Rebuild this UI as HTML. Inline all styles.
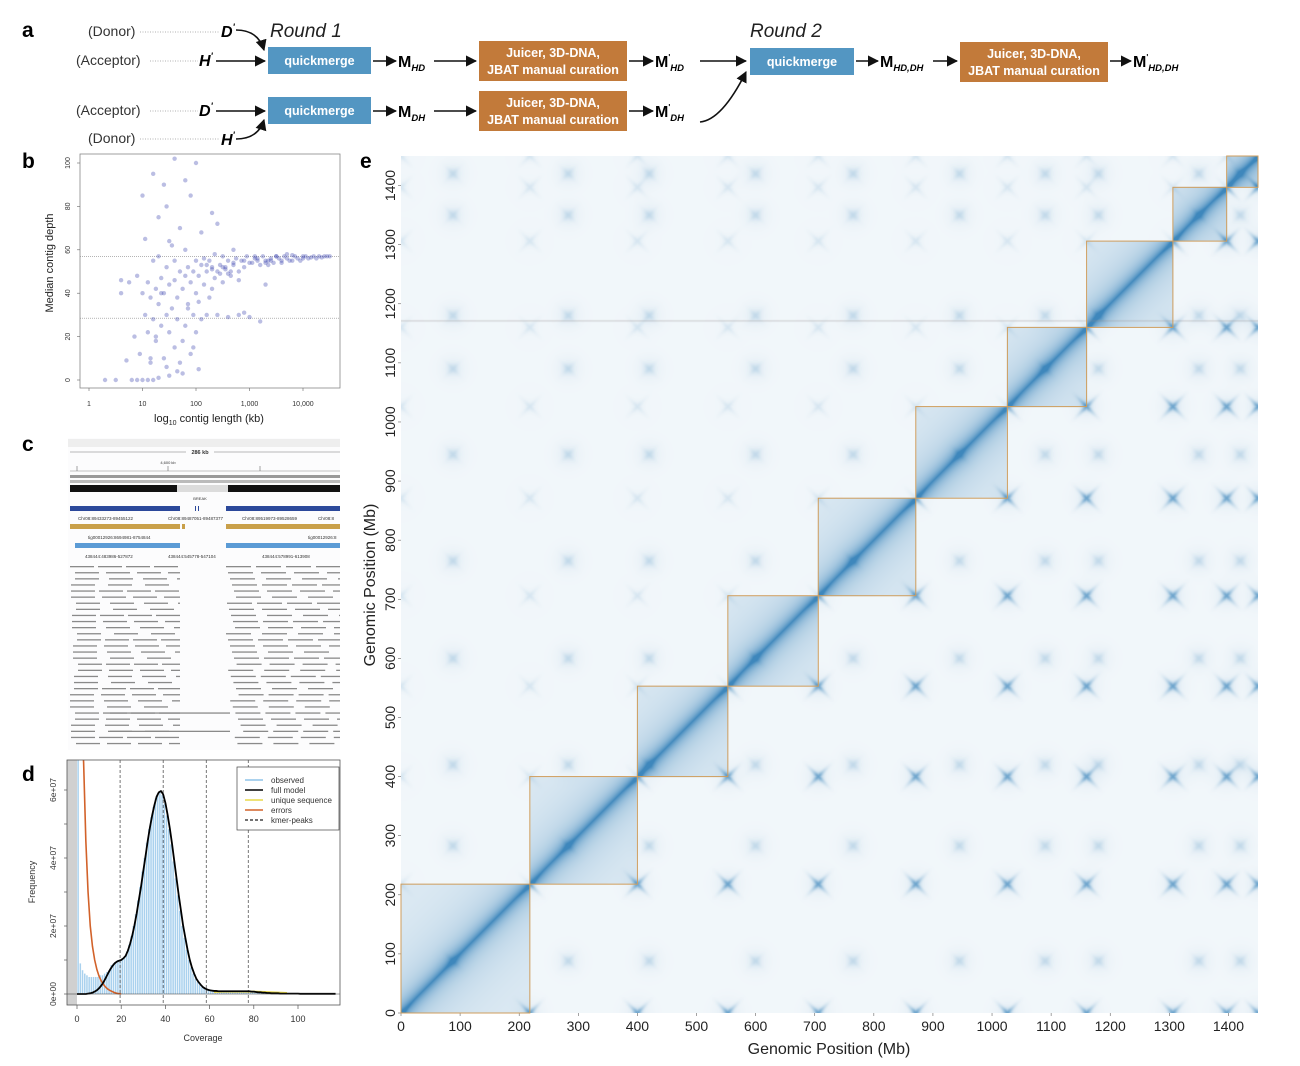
<!DOCTYPE html>
<html><head><meta charset="utf-8">
<style>
html,body{margin:0;padding:0;background:#fff;}
body{width:1300px;height:1066px;position:relative;overflow:hidden;font-family:"Liberation Sans",sans-serif;}
svg{position:absolute;left:0;top:0;}
#hm{position:absolute;left:401px;top:156px;width:857px;height:857px;}
</style></head>
<body>
<svg id="main" width="1300" height="1066" viewBox="0 0 1300 1066">
<defs>
<marker id="ah" viewBox="0 0 10 10" refX="9" refY="5" markerWidth="7" markerHeight="7" orient="auto-start-reverse"><path d="M0,0 L10,5 L0,10 z" fill="#111"/></marker>
</defs>
<g id="panelA" font-family="Liberation Sans, sans-serif">
<text x="22" y="37" font-size="21" font-weight="bold">a</text>
<text x="88" y="36" font-size="14" fill="#333">(Donor)</text>
<line x1="140" y1="32" x2="220" y2="32" stroke="#999" stroke-dasharray="1,1.5" stroke-width="0.8"/>
<text x="221" y="37" font-size="16" font-weight="bold" font-style="italic">D<tspan font-size="9" dy="-7">'</tspan></text>
<path d="M236,30 Q258,30 264,50" fill="none" stroke="#111" stroke-width="1.6" marker-end="url(#ah)"/>
<text x="76" y="65" font-size="14" fill="#333">(Acceptor)</text>
<line x1="150" y1="61" x2="198" y2="61" stroke="#999" stroke-dasharray="1,1.5" stroke-width="0.8"/>
<text x="199" y="66" font-size="16" font-weight="bold" font-style="italic">H<tspan font-size="9" dy="-7">'</tspan></text>
<line x1="216" y1="61" x2="265" y2="61" stroke="#111" stroke-width="1.6" marker-end="url(#ah)"/>
<text x="270" y="37" font-size="19" font-style="italic" fill="#222">Round 1</text>
<rect x="268" y="47" width="103" height="27" fill="#5396c2"/>
<text x="319.5" y="65" font-size="12.5" font-weight="bold" fill="#fff" text-anchor="middle">quickmerge</text>
<line x1="373" y1="61" x2="396" y2="61" stroke="#111" stroke-width="1.6" marker-end="url(#ah)"/>
<text x="398" y="67" font-size="16" font-weight="bold">M<tspan font-size="9.5" font-style="italic" dy="4">HD</tspan></text>
<line x1="434" y1="61" x2="476" y2="61" stroke="#111" stroke-width="1.6" marker-end="url(#ah)"/>
<rect x="479" y="41" width="148" height="40" fill="#c27a3a"/>
<text x="553" y="57" font-size="12.5" font-weight="bold" fill="#fff" text-anchor="middle">Juicer, 3D-DNA,</text>
<text x="553" y="74" font-size="12.5" font-weight="bold" fill="#fff" text-anchor="middle">JBAT manual curation</text>
<line x1="629" y1="61" x2="653" y2="61" stroke="#111" stroke-width="1.6" marker-end="url(#ah)"/>
<text x="655" y="67" font-size="16" font-weight="bold">M<tspan font-size="8" dy="-7">'</tspan><tspan font-size="9.5" font-style="italic" dy="11">HD</tspan></text>
<line x1="700" y1="61" x2="746" y2="61" stroke="#111" stroke-width="1.6" marker-end="url(#ah)"/>
<text x="76" y="115" font-size="14" fill="#333">(Acceptor)</text>
<line x1="150" y1="111" x2="198" y2="111" stroke="#999" stroke-dasharray="1,1.5" stroke-width="0.8"/>
<text x="199" y="116" font-size="16" font-weight="bold" font-style="italic">D<tspan font-size="9" dy="-7">'</tspan></text>
<line x1="216" y1="111" x2="265" y2="111" stroke="#111" stroke-width="1.6" marker-end="url(#ah)"/>
<text x="88" y="143" font-size="14" fill="#333">(Donor)</text>
<line x1="140" y1="139" x2="220" y2="139" stroke="#999" stroke-dasharray="1,1.5" stroke-width="0.8"/>
<text x="221" y="145" font-size="16" font-weight="bold" font-style="italic">H<tspan font-size="9" dy="-7">'</tspan></text>
<path d="M236,139 Q258,139 264,120" fill="none" stroke="#111" stroke-width="1.6" marker-end="url(#ah)"/>
<rect x="268" y="97" width="103" height="27" fill="#5396c2"/>
<text x="319.5" y="115" font-size="12.5" font-weight="bold" fill="#fff" text-anchor="middle">quickmerge</text>
<line x1="373" y1="111" x2="396" y2="111" stroke="#111" stroke-width="1.6" marker-end="url(#ah)"/>
<text x="398" y="117" font-size="16" font-weight="bold">M<tspan font-size="9.5" font-style="italic" dy="4">DH</tspan></text>
<line x1="434" y1="111" x2="476" y2="111" stroke="#111" stroke-width="1.6" marker-end="url(#ah)"/>
<rect x="479" y="91" width="148" height="40" fill="#c27a3a"/>
<text x="553" y="107" font-size="12.5" font-weight="bold" fill="#fff" text-anchor="middle">Juicer, 3D-DNA,</text>
<text x="553" y="124" font-size="12.5" font-weight="bold" fill="#fff" text-anchor="middle">JBAT manual curation</text>
<line x1="629" y1="111" x2="653" y2="111" stroke="#111" stroke-width="1.6" marker-end="url(#ah)"/>
<text x="655" y="117" font-size="16" font-weight="bold">M<tspan font-size="8" dy="-7">'</tspan><tspan font-size="9.5" font-style="italic" dy="11">DH</tspan></text>
<path d="M700,122 Q722,120 746,72" fill="none" stroke="#111" stroke-width="1.6" marker-end="url(#ah)"/>
<text x="750" y="37" font-size="19" font-style="italic" fill="#222">Round 2</text>
<rect x="750" y="48" width="104" height="27" fill="#5396c2"/>
<text x="802" y="66" font-size="12.5" font-weight="bold" fill="#fff" text-anchor="middle">quickmerge</text>
<line x1="856" y1="61" x2="878" y2="61" stroke="#111" stroke-width="1.6" marker-end="url(#ah)"/>
<text x="880" y="67" font-size="16" font-weight="bold">M<tspan font-size="9.5" font-style="italic" dy="4">HD,DH</tspan></text>
<line x1="933" y1="61" x2="957" y2="61" stroke="#111" stroke-width="1.6" marker-end="url(#ah)"/>
<rect x="960" y="42" width="148" height="40" fill="#c27a3a"/>
<text x="1034" y="58" font-size="12.5" font-weight="bold" fill="#fff" text-anchor="middle">Juicer, 3D-DNA,</text>
<text x="1034" y="75" font-size="12.5" font-weight="bold" fill="#fff" text-anchor="middle">JBAT manual curation</text>
<line x1="1110" y1="61" x2="1131" y2="61" stroke="#111" stroke-width="1.6" marker-end="url(#ah)"/>
<text x="1133" y="67" font-size="16" font-weight="bold">M<tspan font-size="8" dy="-7">'</tspan><tspan font-size="9.5" font-style="italic" dy="11">HD,DH</tspan></text>
</g>
<text x="22" y="168" font-size="21" font-weight="bold">b</text>
<text x="22" y="451" font-size="21" font-weight="bold">c</text>
<text x="22" y="781" font-size="21" font-weight="bold">d</text>
<text x="360" y="168" font-size="21" font-weight="bold">e</text>
<g id="panelB"></g>
<g id="panelC"></g>
<g id="panelD"></g>
<g id="panelE"></g>
</svg>
<canvas id="hm" width="857" height="857"></canvas>
<svg id="overlay" width="1300" height="1066" style="pointer-events:none"><g id="boxes"></g></svg>
<script>
// ===== Panel b data =====
const contigLogLen = [4.5,4.45,4.4,4.35,4.3,4.25,4.2,4.15,4.1,4.05,4.0,3.95,3.9,3.85,3.8,3.75,3.7,3.65,3.6,3.55,3.5,3.45,3.4,3.35,3.3,3.25,3.2,3.15,3.1,3.05,3.0,2.95,2.9,2.85,2.8,2.75,2.7,2.65,2.6,2.55,2.5,2.5,2.45,2.4,2.35,2.35,2.3,2.3,2.25,2.25,2.2,2.2,2.15,2.15,2.1,2.1,2.05,2.05,2.0,2.0,2.0,1.95,1.95,1.9,1.9,1.85,1.85,1.8,1.8,1.8,1.75,1.75,1.7,1.7,1.7,1.65,1.65,1.6,1.6,1.6,1.55,1.55,1.5,1.5,1.5,1.45,1.45,1.45,1.4,1.4,1.4,1.35,1.35,1.3,1.3,1.3,1.25,1.25,1.2,1.2,1.2,1.2,1.15,1.15,1.1,1.1,1.1,1.05,1.05,1.0,1.0,1.0,0.95,0.9,0.9,0.85,0.8,0.75,0.7,0.6,0.6,0.5,0.3,2.4,2.6,2.8,2.9,3.0,3.2,2.0,1.6,1.8,2.3,2.4,2.1,1.9,1.5,1.3,3.3,2.7,3.6,3.4,3.1,2.9,2.7,2.5,3.8,4.0,3.5,3.3,2.6,2.8,2.3,2.2,2.45,2.55,2.65,3.15,3.35,3.7,1.85,1.95,2.05,1.75,1.65,1.45,1.35,1.25,1.15];
const contigDepth = [57,57,57,56.5,57,56,57,56.5,56,57,57,55,56,57,57.5,55,56,57,55,56,57,54,56,53,55,57,53,55,56,54,54,57,52,55,50,56,53,48,55,51,57,45,53,50,58,47,52,42,55,38,50,30,56,44,53,28,48,36,55,40,22,50,30,45,12,52,35,48,25,60,42,18,50,8,70,38,28,46,55,15,33,62,44,22,2,52,30,80,40,10,90,47,25,35,1,75,42,18,55,28,0,95,38,8,45,22,0,65,30,40,0,85,12,48,0,20,0,45,9,40,46,0,0,30,29,30,31,29,27,100,102,92,77,72,68,85,64,57,44,60,54,55,57,55,54,52,55,56,57,54,49,46,51,53,49,52,50,56,55,58,33,15,5,3,4,6,40,20,10,2,48,36,14];
// ===== Panel d data (units of 1e7) =====
const coverageObserved = [0,9,0.9,0.7,0.6,0.55,0.5,0.5,0.5,0.5,0.5,0.55,0.55,0.6,0.65,0.7,0.85,0.9,0.95,1.0,1.0,1.05,1.1,1.25,1.45,1.7,2.0,2.35,2.75,3.15,3.6,4.0,4.45,4.85,5.2,5.5,5.75,5.9,5.95,5.85,5.6,5.25,4.85,4.4,3.9,3.4,2.9,2.45,2.0,1.65,1.3,1.0,0.78,0.6,0.45,0.35,0.27,0.2,0.16,0.13,0.11,0.1,0.09,0.09,0.08,0.08,0.08,0.08,0.08,0.08,0.08,0.08,0.08,0.08,0.08,0.08,0.08,0.08,0.08,0.07,0.07,0.06,0.05,0.05,0.04,0.04,0.03,0.03,0.02,0.02,0.02];
const coverageModel = [0,0,0,0,0,0.01,0.02,0.04,0.07,0.11,0.17,0.25,0.35,0.47,0.6,0.72,0.82,0.9,0.95,0.98,1.0,1.05,1.12,1.27,1.47,1.72,2.02,2.37,2.77,3.17,3.62,4.05,4.5,4.9,5.25,5.55,5.8,5.93,5.97,5.87,5.62,5.27,4.87,4.42,3.92,3.42,2.92,2.47,2.02,1.66,1.31,1.01,0.78,0.6,0.45,0.35,0.27,0.2,0.16,0.13,0.11,0.1,0.09,0.09,0.08,0.08,0.08,0.08,0.08,0.08,0.08,0.08,0.08,0.08,0.08,0.08,0.08,0.08,0.08,0.07,0.07,0.06,0.05,0.05,0.04,0.04,0.03,0.03,0.02,0.02,0.02,0.02,0.01,0.01,0.01,0.01,0.01,0.01,0.01,0.01,0.01,0.005,0.005,0.005,0.005,0.005,0.005,0.005,0.005,0.005,0.005,0.005,0.005,0.005,0.005,0.005,0.005,0.005];
const coverageErrors = [12,10,8,6.8,4.5,3.0,2.0,1.4,1.0,0.72,0.52,0.38,0.28,0.2,0.14,0.1,0.07,0.04,0.02,0.01,0];
const coverageUnique = [[62,0.06],[66,0.07],[70,0.07],[75,0.075],[80,0.07],[85,0.06],[90,0.045],[95,0.03]];
const kmerPeaks = [19.5,39,58.5,77.5];
const dXTicks = [0,20,40,60,80,100];
const dYTicks = [0,2,4,6];
const dYTickLabels = ["0e+00","2e+07","4e+07","6e+07"];
// ===== Panel e data (Mb) =====
const chromBounds = [0,218,400,553,706,871,1026,1160,1306,1397,1450];
const centromeres = [88,283,420,600,765,945,1090,1180,1350,1420];
const heatTicks = [0,100,200,300,400,500,600,700,800,900,1000,1100,1200,1300,1400];
const mbMax = 1450;

const NS='http://www.w3.org/2000/svg';
function mk(parent,tag,attrs,text){const e=document.createElementNS(NS,tag);for(const k in attrs)e.setAttribute(k,attrs[k]);if(text!==undefined)e.textContent=text;parent.appendChild(e);return e;}

(function(){
 const g=document.getElementById('panelB');
 const X0=80,X1=340,Y0=154,Y1=388;
 const xs=v=>89+v*53.5, ys=v=>380-v*2.17;
 const fr=mk(g,'rect',{x:X0,y:Y0,width:X1-X0,height:Y1-Y0,fill:'none',stroke:'#888','stroke-width':0.8});
 
 [57,28.5].forEach(v=>{const l=mk(g,'line',{x1:X0,x2:X1,y1:ys(v),y2:ys(v),stroke:'#888','stroke-width':0.6,'stroke-dasharray':'1,1'});});
 const n=Math.min(contigLogLen.length,contigDepth.length);
 for(let i=0;i<n;i++){
  const c=mk(g,'circle',{cx:xs(contigLogLen[i]),cy:ys(contigDepth[i]),r:2.2,fill:'rgba(60,70,175,0.35)'});
  
 }
 ['1','10','100','1,000','10,000'].forEach((t,i)=>{
  mk(g,'line',{x1:xs(i),x2:xs(i),y1:Y1,y2:Y1+3,stroke:'#666','stroke-width':0.6});
  const tx=mk(g,'text',{x:xs(i),y:406,'font-size':7,'text-anchor':'middle',fill:'#333'},t);
  
 });
 [0,20,40,60,80,100].forEach(v=>{
  mk(g,'line',{x1:X0-3,x2:X0,y1:ys(v),y2:ys(v),stroke:'#666','stroke-width':0.6});
  const tx=mk(g,'text',{x:0,y:0,'font-size':7,'text-anchor':'middle',fill:'#333',transform:`translate(70,${ys(v)}) rotate(-90)`},String(v));
  
 });
 const xl=mk(g,'text',{x:209,y:422,'font-size':11,'text-anchor':'middle',fill:'#222'});
 xl.innerHTML='log<tspan font-size="7" dy="3">10</tspan><tspan dy="-3"> contig length (kb)</tspan>';
 
 const yl=mk(g,'text',{x:0,y:0,'font-size':11,'text-anchor':'middle',fill:'#222',transform:'translate(53,263) rotate(-90)'},'Median contig depth');
 
})();

(function(){
 const g=document.getElementById('panelC');
 const r=(x,y,w,h,f)=>mk(g,'rect',{x,y,width:w,height:h,fill:f});
 const t=(x,y,s,sz,a)=>mk(g,'text',{x,y,'font-size':sz||4.5,fill:'#333','text-anchor':a||'start'},s);
 r(68,438,272,312,'#fcfcfd');
 r(68,439,272,8,'#eeeeee');
 mk(g,'line',{x1:70,x2:186,y1:452,y2:452,stroke:'#777','stroke-width':0.6});
 mk(g,'line',{x1:214,x2:340,y1:452,y2:452,stroke:'#777','stroke-width':0.6});
 t(200,454,'286 kb',5.5,'middle').setAttribute('font-weight','bold');
 t(168,464,'4,600 kb',4,'middle');
 mk(g,'line',{x1:70,x2:340,y1:471,y2:471,stroke:'#888','stroke-width':0.6});
 [77,168,260].forEach(x=>mk(g,'line',{x1:x,x2:x,y1:466,y2:471,stroke:'#666','stroke-width':0.6}));
 r(70,475,270,3,'#999');r(70,480,270,3,'#bbb');
 r(70,485,107,7,'#111');r(177,485,51,7,'#dcdcdc');r(228,485,112,7,'#111');
 t(200,500,'BREAK',4,'middle');
 [[70,180],[226,340]].forEach(([a,b])=>r(a,506,b-a,5,'#2b489a'));
 r(195,506,1,5,'#2b489a');r(198,506,1,5,'#2b489a');
 t(78,520,'Chr08:89433273-89455122');t(168,520,'Chr08:89487051-89487377');t(242,520,'Chr08:89519973-89528659');t(318,520,'Chr08:8');
 r(70,524,110,5,'#c9a04a');r(182,524,3,5,'#c9a04a');r(226,524,114,5,'#c9a04a');
 t(88,539,'tig00012926:8694981-8754844');t(308,539,'tig00012926:8');
 r(75,543,105,5,'#5b9bd5');r(226,543,114,5,'#5b9bd5');
 t(85,558,'438444:483986-527872');t(168,558,'438444:545778-547104');t(262,558,'438444:578991-613908');
 for(let row=0;row<30;row++){
  const y=566+row*6.1;
  const off=(row*37)%23;
  for(let x=70+off%9;x<180;x+=28+(row%4)*3){r(x,y,Math.min(24,180-x),1.3,'#8a8a8a');}
  const st=226+(row>15?(row-15)*0.6:0);
  for(let x=st+(row*13)%11;x<340;x+=30+(row%3)*3){r(x,y,Math.min(25,340-x),1.3,'#8a8a8a');}
  if(row===24||row===27) r(110,y,120,1.3,'#8a8a8a');
 }
})();

(function(){
 const g=document.getElementById('panelD');
 const X0=67,X1=340,Y0=760,Y1=1005;
 const xs=v=>77+v*2.21, ys=v=>994-v*34;
 const cp=mk(g,'clipPath',{id:'dclip'});mk(cp,'rect',{x:X0,y:Y0,width:X1-X0,height:Y1-Y0});
 const inner=mk(g,'g',{'clip-path':'url(#dclip)'});
 mk(inner,'rect',{x:X0,y:Y0,width:xs(0)-X0,height:Y1-Y0,fill:'#d0d0d0'});
 coverageObserved.forEach((v,i)=>{
  if(i===0)return;
  const b=mk(inner,'rect',{x:xs(i-1)+0.35,y:ys(v),width:2.21-0.7,height:ys(0)-ys(v),fill:'#a9d1ee'});
  
 });
 kmerPeaks.forEach(p=>{const l=mk(inner,'line',{x1:xs(p),x2:xs(p),y1:Y0,y2:Y1,stroke:'#555','stroke-width':0.8,'stroke-dasharray':'3,2'});});
 const un=mk(inner,'polyline',{points:coverageUnique.map(p=>xs(p[0])+','+ys(p[1])).join(' '),fill:'none',stroke:'#e8d84a','stroke-width':2});
 
 const er=mk(inner,'polyline',{points:coverageErrors.map((v,i)=>xs(i)+','+ys(v)).join(' '),fill:'none',stroke:'#d2622a','stroke-width':1.6});
 
 const md=mk(inner,'polyline',{points:coverageModel.map((v,i)=>xs(i)+','+ys(v)).join(' '),fill:'none',stroke:'#000','stroke-width':1.8,'stroke-linejoin':'round'});
 
 mk(g,'line',{x1:X0,x2:X1,y1:ys(0),y2:ys(0),stroke:'#333','stroke-width':0.6});
 const fr=mk(g,'rect',{x:X0,y:Y0,width:X1-X0,height:Y1-Y0,fill:'none',stroke:'#555','stroke-width':0.8});
 
 dXTicks.forEach(v=>{mk(g,'line',{x1:xs(v),x2:xs(v),y1:Y1,y2:Y1+4,stroke:'#555','stroke-width':0.7});
  const tx=mk(g,'text',{x:xs(v),y:1022,'font-size':9,'text-anchor':'middle',fill:'#333'},String(v));});
 for(let v=0;v<=6;v++)mk(g,'line',{x1:X0-3,x2:X0,y1:ys(v),y2:ys(v),stroke:'#555','stroke-width':0.7});
 dYTicks.forEach((v,i)=>{const tx=mk(g,'text',{x:0,y:0,'font-size':8.5,'text-anchor':'middle',fill:'#333',transform:`translate(56,${ys(v)}) rotate(-90)`},dYTickLabels[i]);});
 const xl=mk(g,'text',{x:203,y:1041,'font-size':9,'text-anchor':'middle',fill:'#333'},'Coverage');
 const yl=mk(g,'text',{x:0,y:0,'font-size':9,'text-anchor':'middle',fill:'#333',transform:'translate(35,882) rotate(-90)'},'Frequency');
 const lg=mk(g,'g',{});
 mk(lg,'rect',{x:237,y:767,width:102,height:63,fill:'#fff',stroke:'#444','stroke-width':0.7});
 const items=[['observed','#8fc3e8',''],['full model','#000',''],['unique sequence','#e8d84a',''],['errors','#d2622a',''],['kmer-peaks','#444','3,2']];
 items.forEach((it,i)=>{const y=780+i*10;
  const l=mk(lg,'line',{x1:245,x2:263,y1:y,y2:y,stroke:it[1],'stroke-width':1.6});if(it[2])l.setAttribute('stroke-dasharray',it[2]);
  const tx=mk(lg,'text',{x:271,y:y+3,'font-size':8,fill:'#333'},it[0]);});
})();

const PX0=401,PY1=1013,PSZ=857;
const sx=v=>PX0+v/mbMax*PSZ, sy=v=>PY1-v/mbMax*PSZ;
(function(){
 const g=document.getElementById('panelE');
 heatTicks.forEach(v=>{
  mk(g,'line',{x1:sx(v),x2:sx(v),y1:PY1,y2:PY1+3,stroke:'#666','stroke-width':0.6});
  const tx=mk(g,'text',{x:sx(v),y:1031,'font-size':14,'text-anchor':'middle',fill:'#222'},String(v));
  
  mk(g,'line',{x1:PX0-3,x2:PX0,y1:sy(v),y2:sy(v),stroke:'#666','stroke-width':0.6});
  const ty=mk(g,'text',{x:0,y:0,'font-size':14,'text-anchor':'middle',fill:'#222',transform:`translate(395,${sy(v)}) rotate(-90)`},String(v));
  
 });
 const xl=mk(g,'text',{x:829,y:1054,'font-size':16,'text-anchor':'middle',fill:'#222'},'Genomic Position (Mb)');
 
 const yl=mk(g,'text',{x:0,y:0,'font-size':16,'text-anchor':'middle',fill:'#222',transform:'translate(375,585) rotate(-90)'},'Genomic Position (Mb)');
 
 const bx=document.getElementById('boxes');
 for(let i=0;i<chromBounds.length-1;i++){
  const a=chromBounds[i],b=chromBounds[i+1];
  const r=mk(bx,'rect',{x:sx(a),y:sy(b),width:sx(b)-sx(a),height:sy(a)-sy(b),fill:'none',stroke:'#cf9d5c','stroke-width':1});
  
 }
})();
(function(){
 const cv=document.getElementById('hm');const ctx=cv.getContext('2d');
 const N=857;const img=ctx.createImageData(N,N);const d=img.data;
 const tels=chromBounds;
 function chromOf(v){for(let i=0;i<chromBounds.length-1;i++)if(v<chromBounds[i+1])return i;return chromBounds.length-2;}
 function nearest(v,arr){let best=1e9,bd=0;for(const c of arr){const dd=v-c;if(Math.abs(dd)<best){best=Math.abs(dd);bd=dd;}}return bd;}
 const colX=[],chX=[],telX=[],cenX=[];
 for(let p=0;p<N;p++){const mb=(p+0.5)/N*mbMax;colX.push(mb);chX.push(chromOf(mb));telX.push(nearest(mb,tels));cenX.push(nearest(mb,centromeres));}
 for(let py=0;py<N;py++){
  const y=(N-py-0.5)/N*mbMax;const cy=chromOf(y);const ty=telX[N-1-py],cny=cenX[N-1-py];
  for(let px=0;px<N;px++){
   const x=colX[px];let v=0.03;
   if(chX[px]===cy){const dd=Math.abs(x-y);v+=0.1+0.55*Math.exp(-dd/14)+0.3*Math.exp(-dd/70);}
   const tx=telX[px];
   const r2=tx*tx+ty*ty;
   if(r2<1600){const w=(x>y)?1:0.2;const arm=Math.exp(-Math.pow(Math.abs(tx)-Math.abs(ty),2)/25)*Math.exp(-r2/350);
     v+=w*(0.3*Math.exp(-r2/60)+0.35*arm+0.06*Math.exp(-r2/500));}
   const cx=cenX[px];const c2=cx*cx+cny*cny;
   if(c2<1600){const arm=Math.exp(-Math.pow(Math.abs(cx)-Math.abs(cny),2)/30)*Math.exp(-c2/250);
     v+=0.14*Math.exp(-c2/80)+0.06*arm+0.05*Math.exp(-c2/500);}
   if(v>1)v=1;
   const i=(py*N+px)*4;
   d[i]=247-v*(247-62);d[i+1]=250-v*(250-135);d[i+2]=252-v*(252-188);d[i+3]=255;
  }
 }
 ctx.putImageData(img,0,0);
 ctx.fillStyle='rgba(150,140,140,0.35)';ctx.fillRect(0,N-1172/mbMax*N,N,1.2);
})();
</script>
</body></html>
